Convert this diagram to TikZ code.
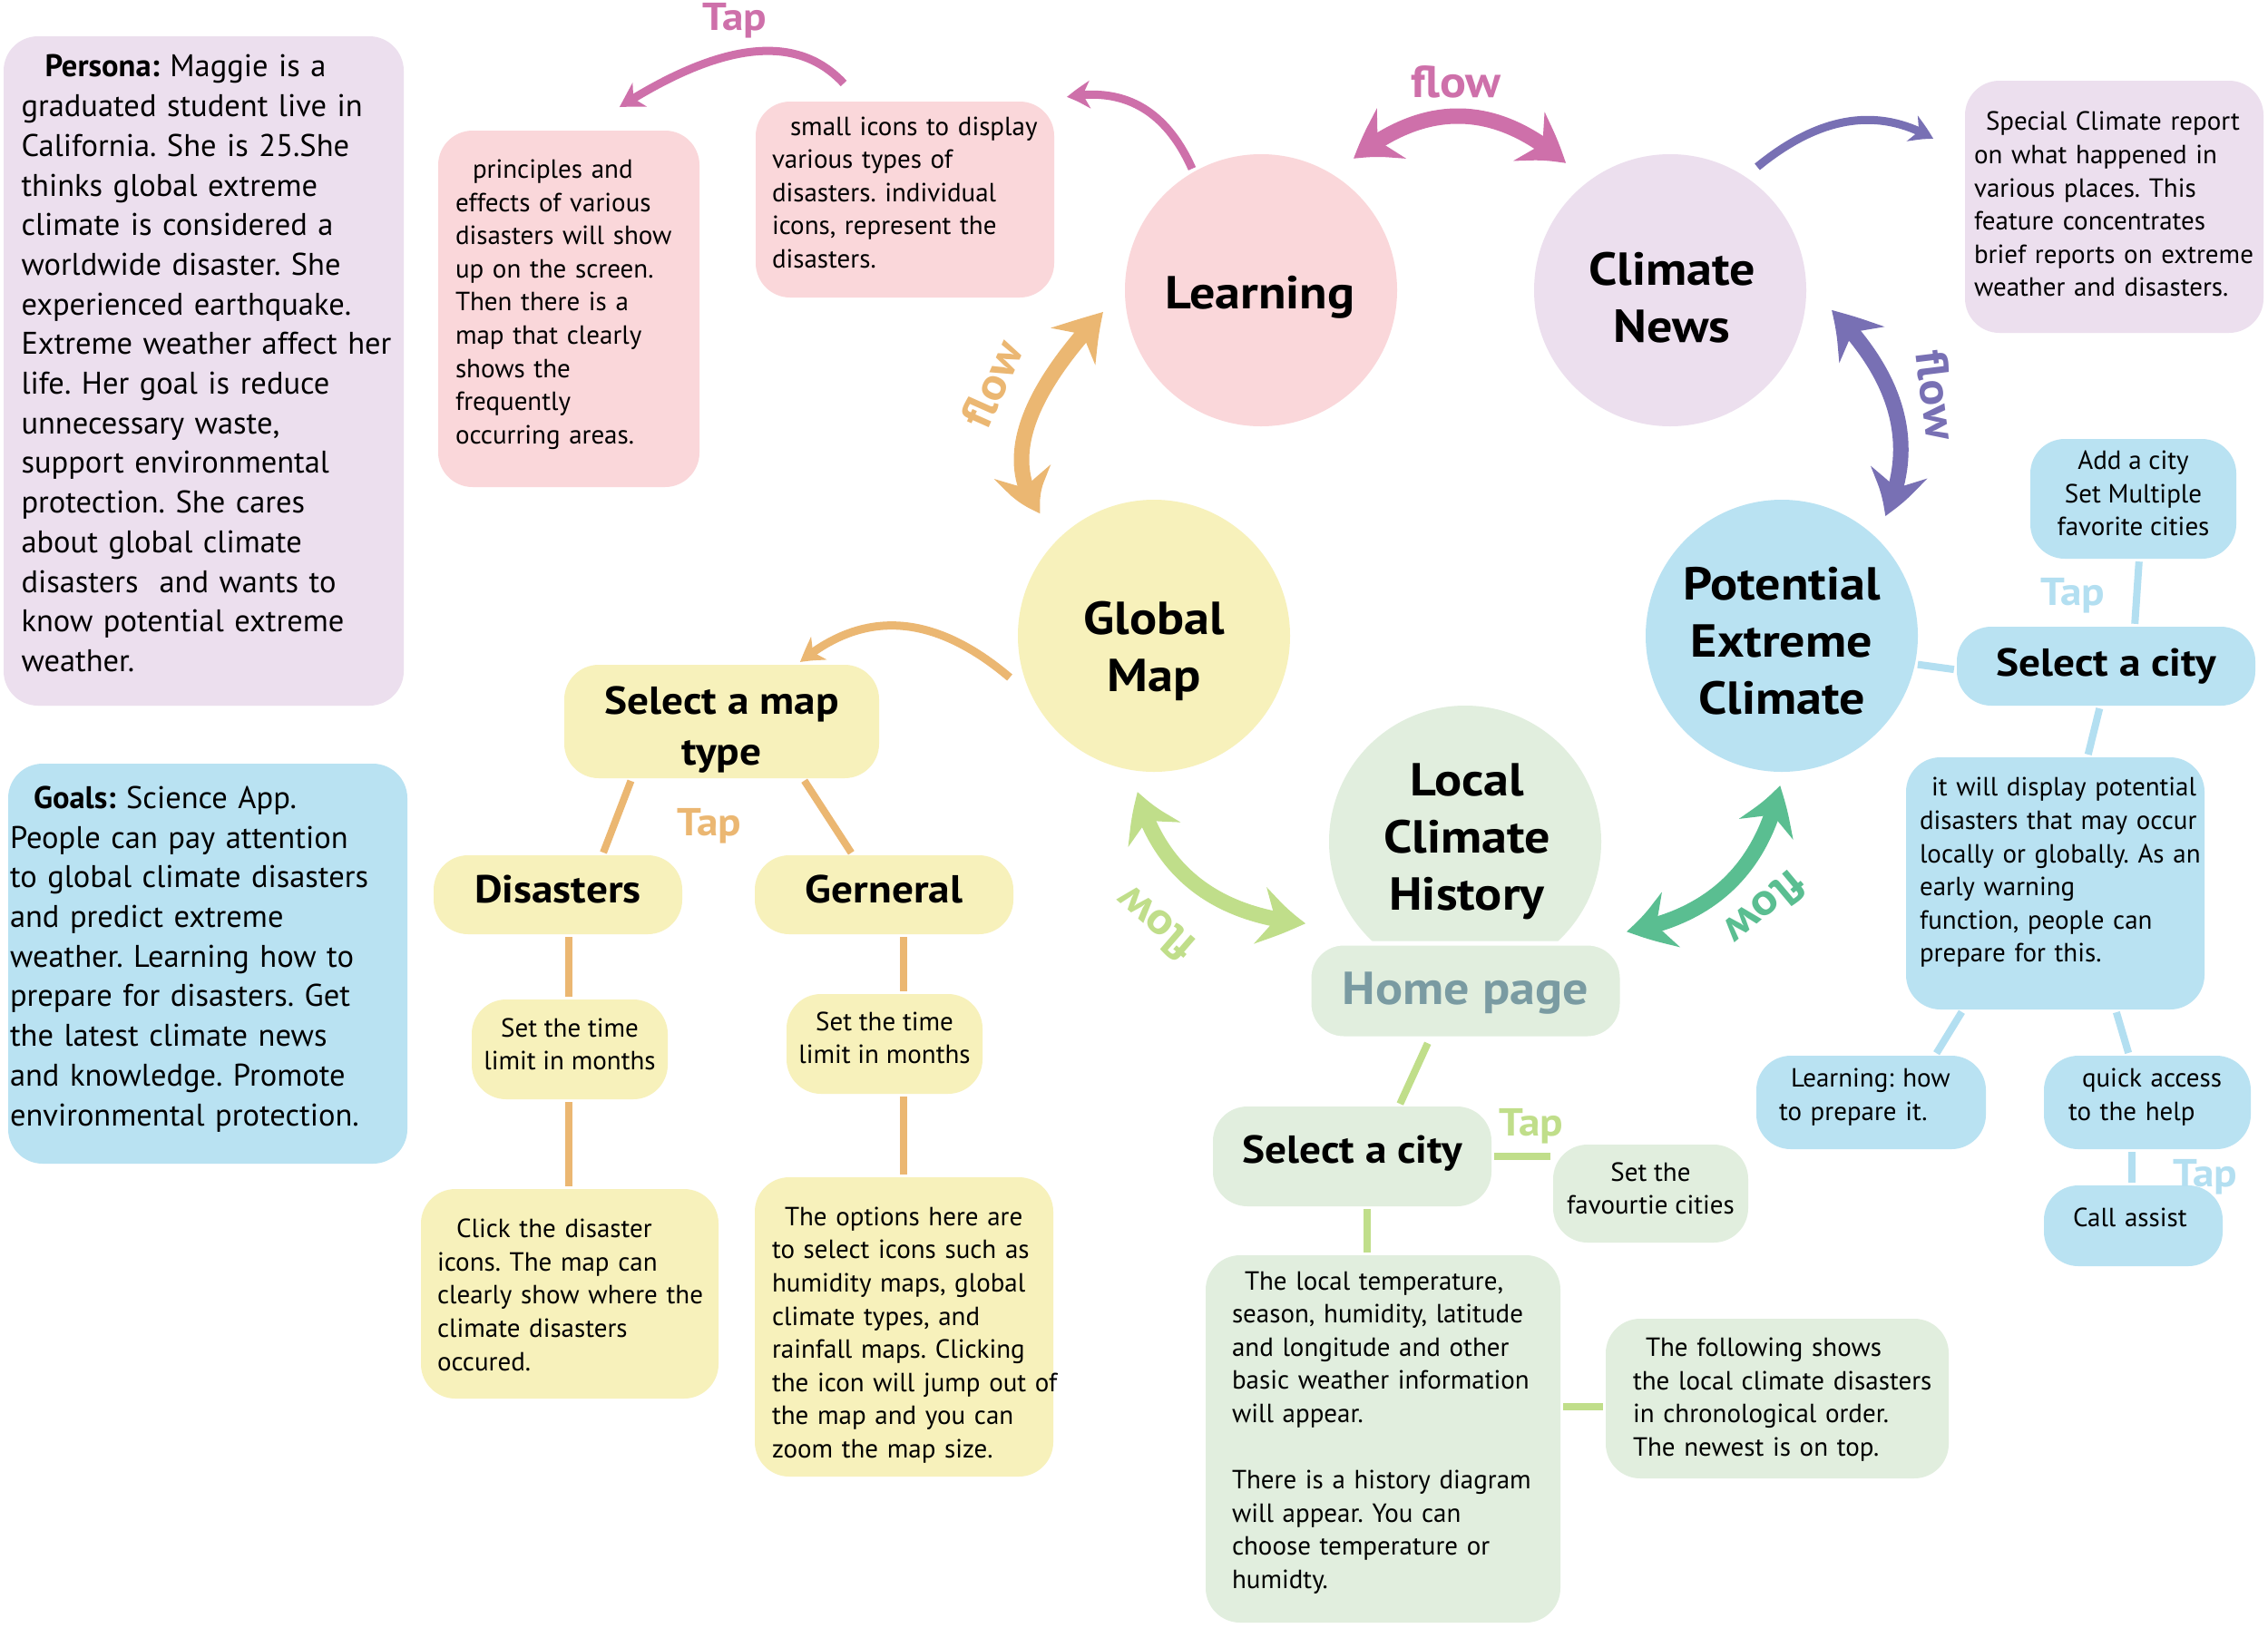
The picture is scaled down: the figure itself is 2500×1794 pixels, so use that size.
\documentclass[tikz,border=0pt]{standalone}
\usepackage{fontspec}
\setmainfont{PT Sans}
\newfontfamily\ttlfont[FakeStretch=1.1]{PT Sans}
\usetikzlibrary{arrows.meta,bending,calc}
\definecolor{cPinkBox}{HTML}{FAD7DA}
\definecolor{cLav}{HTML}{ECDFEE}
\definecolor{cBlue}{HTML}{B9E2F2}
\definecolor{cYel}{HTML}{F7F1BB}
\definecolor{cGreen}{HTML}{E1EEDE}
\definecolor{cPinkA}{HTML}{CE70AA}
\definecolor{cOrange}{HTML}{EBB772}
\definecolor{cPurple}{HTML}{7870B4}
\definecolor{cLime}{HTML}{C0DE8A}
\definecolor{cTeal}{HTML}{5ABE91}
\definecolor{cHome}{HTML}{7A9BA2}
\definecolor{cBlueLine}{HTML}{B3DFF1}
\newcommand{\blk}[2][4pt]{\raisebox{#1}[\height][\depth]{\begin{tabular}{@{}l@{}}#2\end{tabular}}}
\newcommand{\cblk}[2][3pt]{\raisebox{#1}[\height][\depth]{\begin{tabular}{@{}c@{}}#2\end{tabular}}}
\newcommand{\tblk}[1]{\begin{tabular}[t]{@{}c@{}}#1\end{tabular}}
\newcommand{\mv}[2]{\raisebox{#1}[\height][\depth]{#2}}
\frenchspacing
\begin{document}
\begin{tikzpicture}[x=1pt,y=-1pt,
  box/.style={rounded corners=38pt, inner sep=0pt, anchor=center},
  circ/.style={circle, minimum size=300pt, inner sep=0pt},
  ctxt/.style={anchor=base, inner sep=0pt, font=\ttlfont\fontsize{51}{63}\selectfont\bfseries},
  body/.style={font=\fontsize{29}{36.6}\selectfont, align=left},
  bodyc/.style={font=\fontsize{29}{36.6}\selectfont, align=center},
  big/.style={font=\fontsize{34.5}{43.7}\selectfont, align=left},
  ttl/.style={font=\ttlfont\fontsize{43}{56}\selectfont\bfseries, align=center},
  conn/.style={line width=8pt, shorten <=3pt, shorten >=3pt},
  thinarr/.style={line width=9pt, -{Stealth[length=26pt,width=30pt,inset=8pt,bend]}},
  flowarr/.style={line width=17pt, {Stealth[length=52pt,width=62pt,inset=18pt,bend]}-{Stealth[length=52pt,width=62pt,inset=18pt,bend]}},
  taplbl/.style={font=\ttlfont\fontsize{43}{50}\selectfont\bfseries, anchor=base},
  flowlbl/.style={font=\ttlfont\fontsize{49}{56}\selectfont\bfseries},
]
\fill[white] (0,0) rectangle (2500,1794);
\useasboundingbox (0,0) rectangle (2500,1794);

% ---- circles
\node[circ, fill=cPinkBox] (learn) at (1390,320) {};
\node[circ, fill=cLav] (news) at (1841,320) {};
\node[circ, fill=cYel] (gmap) at (1272,701) {};
\node[circ, fill=cBlue] (pot) at (1964,701) {};
\node[circ, fill=cGreen] (local) at (1615,928) {};
\node[ctxt] (learnT) at (1389,340) {\tblk{Learning}};
\node[ctxt] (newsT) at (1843,314) {\tblk{Climate\\News}};
\node[ctxt] (gmapT) at (1272,699) {\tblk{Global\\Map}};
\node[ctxt] (potT) at (1964,661) {\tblk{Potential\\Extreme\\Climate}};
\node[ctxt] (localT) at (1617,877) {\tblk{Local\\Climate\\History}};

% ---- left boxes
\node[box, fill=cLav, minimum width=441pt, minimum height=738pt, text width=402pt, big] (persona) at (224.5,409)
{\blk[5pt]{\hspace*{26pt}\textbf{Persona:} Maggie is a\\graduated student live in\\California. She is 25.She\\thinks global extreme\\climate is considered a\\worldwide disaster. She\\experienced earthquake.\\Extreme weather affect her\\life. Her goal is reduce\\unnecessary waste,\\support environmental\\protection. She cares\\about global climate\\disasters\ \ and wants to\\know potential extreme\\weather.}};
\node[box, fill=cBlue, minimum width=440pt, minimum height=441pt, text width=436pt, big] (goals) at (229,1062.5)
{\blk[5pt]{\hspace*{26pt}\textbf{Goals:} Science App.\\People can pay attention\\to global climate disasters\\and predict extreme\\weather. Learning how to\\prepare for disasters. Get\\the latest climate news\\and knowledge. Promote\\environmental protection.}};

% ---- learning boxes
\node[box, fill=cPinkBox, minimum width=288pt, minimum height=393pt, text width=250pt, body] (princ) at (627,340.5)
{\blk[5pt]{\hspace*{19pt}principles and\\effects of various\\disasters will show\\up on the screen.\\Then there is a\\map that clearly\\shows the\\frequently\\occurring areas.}};
\node[box, fill=cPinkBox, minimum width=329pt, minimum height=216pt, text width=293pt, body] (icons) at (997.5,220)
{\blk[5pt]{\hspace*{20pt}small icons to display\\various types of\\disasters. individual\\icons, represent the\\disasters.}};

% ---- news box
\node[box, fill=cLav, minimum width=329pt, minimum height=278pt, text width=309pt, body] (special) at (2330.5,228)
{\blk[0pt]{\hspace*{13pt}Special Climate report\\on what happened in\\various places. This\\feature concentrates\\brief reports on extreme\\weather and disasters.}};

% ---- potential boxes
\node[box, fill=cBlue, minimum width=227pt, minimum height=132pt, bodyc] (addcity) at (2351.5,550) {\cblk[3pt]{Add a city\\Set Multiple\\favorite cities}};
\node[box, fill=cBlue, minimum width=329pt, minimum height=87pt, ttl] (bselect) at (2321.5,734.5) {Select a city};
\node[box, fill=cBlue, minimum width=329pt, minimum height=278pt, text width=299pt, body] (display) at (2265.5,974)
{\blk[12pt]{\hspace*{13pt}it will display potential\\disasters that may occur\\locally or globally. As an\\early warning\\function, people can\\prepare for this.}};
\node[box, fill=cBlue, minimum width=253pt, minimum height=103pt, text width=203pt, body] (learnhow) at (2062.5,1215.5)
{\blk[6pt]{\hspace*{13pt}Learning: how\\to prepare it.}};
\node[box, fill=cBlue, minimum width=228pt, minimum height=103pt, text width=174pt, body] (quick) at (2367,1215.5)
{\blk[6pt]{\hspace*{15pt}quick access\\to the help}};
\node[box, fill=cBlue, minimum width=197pt, minimum height=89pt, text width=133pt, body] (call) at (2351.5,1351.5) {\blk[6pt]{Call assist}};

% ---- global map boxes
\node[box, fill=cYel, minimum width=347pt, minimum height=125pt, ttl] (maptype) at (795.5,795.5) {\cblk[-9pt]{Select a map\\type}};
\node[box, fill=cYel, minimum width=274pt, minimum height=87pt, ttl] (dis) at (615,986.5) {\mv{6pt}{Disasters}};
\node[box, fill=cYel, minimum width=285pt, minimum height=87pt, ttl] (gen) at (974.5,986.5) {\mv{6pt}{Gerneral}};
\node[box, fill=cYel, minimum width=216pt, minimum height=110pt, bodyc] (tl1) at (628,1157) {\cblk[3pt]{Set the time\\limit in months}};
\node[box, fill=cYel, minimum width=216pt, minimum height=110pt, bodyc] (tl2) at (975,1151) {\cblk[4pt]{Set the time\\limit in months}};
\node[box, fill=cYel, minimum width=328pt, minimum height=231pt, text width=292pt, body] (click) at (628,1426.5)
{\blk[-4pt]{\hspace*{21pt}Click the disaster\\icons. The map can\\clearly show where the\\climate disasters\\occured.}};
\node[box, fill=cYel, minimum width=329pt, minimum height=330pt, text width=291pt, body] (options) at (996.5,1463)
{\blk[-9pt]{\hspace*{14pt}The options here are\\to select icons such as\\humidity maps, global\\climate types, and\\rainfall maps. Clicking\\the icon will jump out of\\the map and you can\\zoom the map size.}};

% ---- local history boxes
\node[box, fill=cGreen, draw=white, line width=5pt, minimum width=345pt, minimum height=105pt, ttl, font=\ttlfont\fontsize{51}{60}\selectfont\bfseries, text=cHome] (home) at (1615.5,1092.5) {\mv{-3pt}{Home page}};
\node[box, fill=cGreen, minimum width=307pt, minimum height=110pt, ttl] (gselect) at (1490.5,1275) {\mv{3pt}{Select a city}};
\node[box, fill=cGreen, minimum width=215pt, minimum height=108pt, bodyc] (fav) at (1819.5,1316) {\cblk[3pt]{Set the\\favourtie cities}};
\node[box, fill=cGreen, minimum width=391pt, minimum height=405pt, text width=333pt, body] (localtemp) at (1524.5,1586.5)
{\blk[7pt]{\hspace*{14pt}The local temperature,\\season, humidity, latitude\\and longitude and other\\basic weather information\\will appear.\\ \\There is a history diagram\\will appear. You can\\choose temperature or\\humidty.}};
\node[box, fill=cGreen, minimum width=378pt, minimum height=176pt, text width=318pt, body] (follow) at (1959,1542)
{\blk[-1pt]{\hspace*{14pt}The following shows\\the local climate disasters\\in chronological order.\\The newest is on top.}};

% ---- straight connectors
\draw[conn, cOrange] ([xshift=-99pt]maptype.south) -- ([xshift=49pt]dis.north);
\draw[conn, cOrange] ([xshift=89.5pt]maptype.south) -- ([xshift=-34.5pt]gen.north);
\draw[conn, cOrange] ([xshift=12pt]dis.south) -- ([xshift=-1pt]tl1.north);
\draw[conn, cOrange] ([xshift=-1pt]tl1.south) -- ([xshift=-1pt]click.north);
\draw[conn, cOrange] ([xshift=21.5pt]gen.south) -- ([xshift=21pt]tl2.north);
\draw[conn, cOrange] ([xshift=21pt]tl2.south) -- ([xshift=-0.5pt]options.north);

\draw[conn, cLime] ([xshift=-40.5pt]home.south) -- ([xshift=51.5pt]gselect.north);
\draw[conn, cLime] (gselect.east) -- (gselect.east -| fav.west);
\draw[conn, cLime] ([xshift=16.5pt]gselect.south) -- ([xshift=-17.5pt]localtemp.north);
\draw[conn, cLime] ([yshift=-9pt]follow.west -| localtemp.east) -- ([yshift=-9pt]follow.west);

\draw[conn, cBlueLine] (pot.-12) -- ([yshift=-4pt]bselect.west);
\draw[conn, cBlueLine] ([xshift=6.5pt]addcity.south) -- ([xshift=31.5pt]bselect.north);
\draw[conn, cBlueLine] ([xshift=-6.5pt]bselect.south) -- ([xshift=35.5pt]display.north);
\draw[conn, cBlueLine] ([xshift=-101.5pt]display.south) -- ([xshift=70.5pt]learnhow.north);
\draw[conn, cBlueLine] ([xshift=66.5pt]display.south) -- ([xshift=-20pt]quick.north);
\draw[conn, cBlueLine] ([xshift=-17pt]quick.south) -- ([xshift=-1.5pt]call.north);

% ---- thin curved arrows
\coordinate (ta1) at (930,92);   \coordinate (ta2) at (683,118);
\draw[thinarr, cPinkA] (ta1) .. controls (879,36.7) and (796.7,45.3) .. (ta2);
\coordinate (tb1) at (1314,186); \coordinate (tb2) at (1176,107);
\draw[thinarr, cPinkA] (tb1) .. controls (1285.3,121.7) and (1239.3,95.3) .. (tb2);
\coordinate (tc1) at (1937,184); \coordinate (tc2) at (2131,153);
\draw[thinarr, cPurple] (tc1) .. controls (2005.7,127.7) and (2070.3,117.3) .. (tc2);
\coordinate (td1) at (1113,747); \coordinate (td2) at (882,730);
\draw[thinarr, cOrange] (td1) .. controls (1030,676.7) and (953,671) .. (td2);

% ---- flow arrows
\coordinate (fa1) at (1492,175); \coordinate (fa2) at (1726,180);
\draw[flowarr, cPinkA] (fa1) .. controls (1571.3,110.7) and (1649.3,112.3) .. (fa2);
\coordinate (fb1) at (1216,344); \coordinate (fb2) at (1147,566);
\draw[flowarr, cOrange] (fb1) .. controls (1127,438) and (1104,512) .. (fb2);
\coordinate (fc1) at (2019,342); \coordinate (fc2) at (2078,569);
\draw[flowarr, cPurple] (fc1) .. controls (2094,417) and (2113.7,492.7) .. (fc2);
\coordinate (fd1) at (1254,873); \coordinate (fd2) at (1439,1018);
\draw[flowarr, cLime] (fd1) .. controls (1277.7,960.7) and (1339.3,1009) .. (fd2);
\coordinate (fe1) at (1962,866); \coordinate (fe2) at (1793,1027);
\draw[flowarr, cTeal] (fe1) .. controls (1942.3,957.7) and (1886,1011.3) .. (fe2);

% ---- labels
\node[taplbl, text=cPinkA] (tap1) at (810,33) {Tap};
\node[taplbl, text=cOrange] (tap2) at (782,921) {Tap};
\node[taplbl, text=cLime] (tap3) at (1688,1252) {Tap};
\node[taplbl, text=cBlueLine] (tap4) at (2285,667) {Tap};
\node[taplbl, text=cBlueLine] (tap5) at (2431,1308) {Tap};

\node[flowlbl, text=cPinkA, anchor=base] (fl1) at (1605,107) {flow};
\node[flowlbl, text=cOrange, rotate=66] (fl2) at (1093,423) {flow};
\node[flowlbl, text=cPurple, rotate=-83] (fl3) at (2135,436) {flow};
\node[flowlbl, text=cLime, rotate=139] (fl4) at (1273,1019) {flow};
\node[flowlbl, text=cTeal, rotate=220] (fl5) at (1946,1002) {flow};
\end{tikzpicture}
\end{document}
